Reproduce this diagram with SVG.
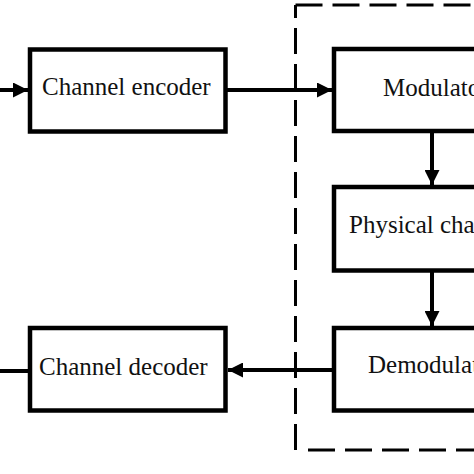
<svg xmlns="http://www.w3.org/2000/svg" width="474" height="474" viewBox="0 0 474 474">
<defs>
<style>
.box{fill:#fff;stroke:#000;stroke-width:4.5}
.lbl{font-family:"Liberation Serif","Times New Roman",serif;font-size:25px;fill:#111}
.wire{stroke:#000;stroke-width:4;fill:none}
.dash{stroke:#000;stroke-width:3;fill:none;stroke-dasharray:26 10}
</style>
<marker id="ah" viewBox="0 0 15 15" refX="15" refY="7.5" markerWidth="15" markerHeight="15" markerUnits="userSpaceOnUse" orient="auto">
<path d="M0,0 L15,7.5 L0,15 Z" fill="#000"/>
</marker>
</defs>
<rect width="474" height="474" fill="#fff"/>
<g id="boundary">
<path class="dash" d="M295.5 5 H480" style="stroke-dasharray:27 10"/>
<path class="dash" d="M295.5 5 V450" style="stroke-dashoffset:13"/>
<path class="dash" d="M308 450 H480" style="stroke-dasharray:27 10"/>
</g>
<g id="connectors">
<line class="wire" x1="0" y1="90" x2="28" y2="90" marker-end="url(#ah)"/>
<line class="wire" x1="227" y1="90" x2="332" y2="90" marker-end="url(#ah)"/>
<line class="wire" x1="432" y1="133" x2="432" y2="185" marker-end="url(#ah)"/>
<line class="wire" x1="432" y1="272" x2="432" y2="326" marker-end="url(#ah)"/>
<line class="wire" x1="332" y1="370" x2="228" y2="370" marker-end="url(#ah)"/>
<line class="wire" x1="0" y1="371" x2="28" y2="371"/>
</g>
<g id="channel-encoder">
<rect class="box" x="30" y="49.5" width="195.5" height="82"/>
<text class="lbl" x="42" y="95">Channel encoder</text>
</g>
<g id="modulator">
<rect class="box" x="334" y="49" width="200" height="82"/>
<text class="lbl" x="383" y="96">Modulator</text>
</g>
<g id="physical-channel">
<rect class="box" x="334" y="187" width="200" height="83.5"/>
<text class="lbl" x="349" y="233">Physical channel</text>
</g>
<g id="demodulator">
<rect class="box" x="334" y="328" width="200" height="82.5"/>
<text class="lbl" x="368" y="373">Demodulator</text>
</g>
<g id="channel-decoder">
<rect class="box" x="30" y="328" width="195.5" height="82.5"/>
<text class="lbl" x="39" y="375">Channel decoder</text>
</g>
</svg>
